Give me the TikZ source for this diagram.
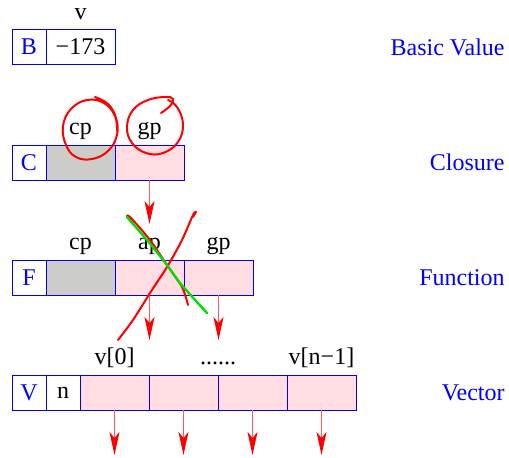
\documentclass[tikz,border=0pt]{standalone}
\usepackage{fontspec}
\setmainfont{Liberation Serif}
\usetikzlibrary{arrows.meta,positioning}
\definecolor{cellpink}{RGB}{255,221,226}
\definecolor{cellgray}{RGB}{204,204,200}
\definecolor{inkgreen}{RGB}{0,224,0}

\begin{document}
\begin{tikzpicture}[x=0.5pt,y=-0.5pt,font=\fontsize{12}{14}\selectfont,
  cell/.style={draw=blue,line width=0.5pt,outer sep=0pt,inner sep=0pt,minimum height=17.5pt},
  tag/.style={cell,minimum width=17pt,text=blue},
  slot/.style={cell,minimum width=34.5pt},
  lbl/.style={inner sep=0pt,text depth=0pt,above=5pt of #1},
  kind/.style={text=blue,anchor=east,inner sep=0pt},
  ptr/.style={draw=red!65,line width=0.6pt,-{Stealth[length=11.5pt,width=5pt,inset=3pt,color=red]}},
  ink/.style={red,line width=1pt,line cap=round,line join=round}]
  \useasboundingbox (0,0) rectangle (509,457);

  \node[tag] (b1) at (29,47) {B};
  \node[slot,right=0pt of b1] (b2) {−173};
  \node[lbl=b2] (bv) {v};

  \node[tag] (c1) at (29,162.5) {C};
  \node[slot,fill=cellgray,right=0pt of c1] (c2) {};
  \node[slot,fill=cellpink,right=0pt of c2] (c3) {};
  \node[lbl=c2] (ccp) {cp};
  \node[lbl=c3] (cgp) {gp};

  \node[tag] (f1) at (29,277.5) {F};
  \node[slot,fill=cellgray,right=0pt of f1] (f2) {};
  \node[slot,fill=cellpink,right=0pt of f2] (f3) {};
  \node[slot,fill=cellpink,right=0pt of f3] (f4) {};
  \node[lbl=f2] (fcp) {cp};
  \node[lbl=f3] (fap) {ap};
  \node[lbl=f4] (fgp) {gp};

  \node[tag] (v1) at (29,392.5) {V};
  \node[cell,minimum width=17pt,right=0pt of v1] (v2) {n};
  \node[slot,fill=cellpink,right=0pt of v2] (v3) {};
  \node[slot,fill=cellpink,right=0pt of v3] (v4) {};
  \node[slot,fill=cellpink,right=0pt of v4] (v5) {};
  \node[slot,fill=cellpink,right=0pt of v5] (v6) {};
  \node[lbl=v3] (vfirst) {v[0]};
  \node[lbl=v4.north east] (vdots) {......};
  \node[lbl=v6] (vlast) {v[n−1]};

  \node[kind] (kbasic) at (505,47) {Basic Value};
  \node[kind] (kclos) at (505,162.5) {Closure};
  \node[kind] (kfun) at (505,277.5) {Function};
  \node[kind] (kvec) at (505,392.5) {Vector};

  \coordinate[below=22pt of c3] (c3end);
  \draw[ptr] (c3) -- (c3end);
  \foreach \c in {f3,f4,v3,v4,v5,v6} {
    \coordinate[below=22.5pt of \c] (\c end);
    \draw[ptr] (\c) -- (\c end);
  }

  \draw[ink] plot[smooth,tension=0.7] coordinates {(95,97) (108,104) (116,118) (117,135) (108,151) (92,159) (76,157) (66,145) (63,126) (71,109) (87,100) (104,103) (115,116) (117,131)};
  \draw[ink] plot[smooth,tension=0.7] coordinates {(161,113) (170,106) (173,99) (165,97) (148,100) (133,110) (127,127) (132,143) (146,153) (163,153) (178,142) (183,124) (177,107) (168,100)};
  \draw[ink] plot[smooth] coordinates {(133,223) (127,216) (131,218) (150,240) (167,265) (182,287) (188,305)};
  \draw[ink] plot[smooth] coordinates {(118,340) (133,320) (150,293) (167,267) (182,240) (193,215) (196,212) (193,217)};
  \draw[inkgreen,line width=1.2pt,line cap=round] plot[smooth] coordinates {(127,217) (147,240) (167,265) (180,283) (207,313)};
\end{tikzpicture}
\end{document}
